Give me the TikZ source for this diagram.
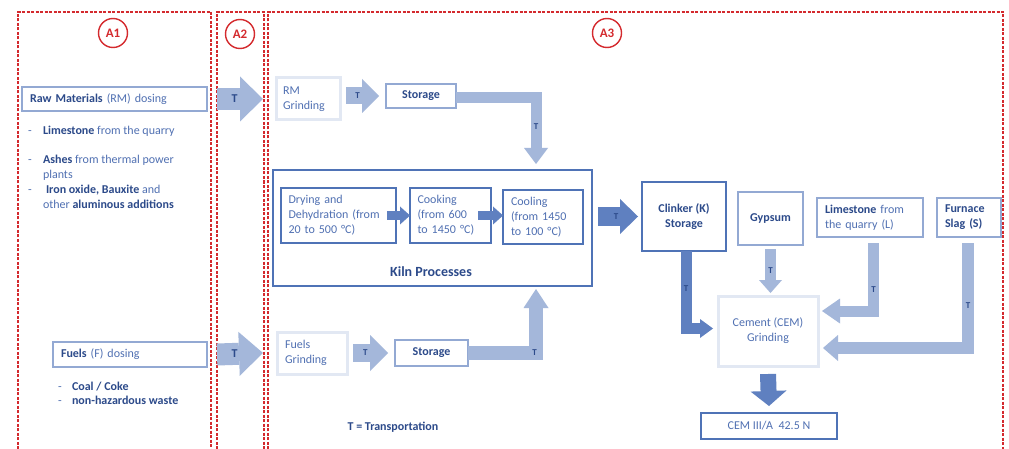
\documentclass[tikz,border=0pt]{standalone}
\usepackage{fontspec}
\setmainfont{Carlito}
\usetikzlibrary{arrows.meta}
\definecolor{redA}{HTML}{D42A2E}
\definecolor{txtd}{HTML}{2C4A8A}
\definecolor{txtl}{HTML}{5070B2}
\definecolor{arl}{HTML}{A4B7DA}
\definecolor{ard}{HTML}{5F80C0}
\definecolor{bmed}{HTML}{4F73B6}
\definecolor{blt}{HTML}{93A9D3}
\definecolor{bfaint}{HTML}{E2E8F3}
\begin{document}
\begin{tikzpicture}[x=1pt,y=-1pt,
  every node/.style={font=\fontsize{12}{15}\selectfont, text=txtl, inner sep=0pt, outer sep=0pt},
  redline/.style={draw=redA, line width=1.3pt, dash pattern=on 3pt off 1.5pt},
  zone/.style={circle, draw=redA, line width=1.4pt, minimum size=29pt, text=redA, font=\bfseries\fontsize{13}{13}\selectfont},
  medbox/.style={rectangle, draw=bmed, line width=1.8pt},
  litebox/.style={rectangle, draw=blt, line width=2pt},
  faintbox/.style={rectangle, draw=bfaint, line width=3pt},
  sz/.style 2 args={minimum width=#1, minimum height=#2},
  lt/.style={align=left, text width=#1},
  bd/.style={font=\bfseries\fontsize{12}{15}\selectfont, text=txtd},
  tbig/.style={font=\bfseries\fontsize{12}{12}\selectfont, text=txtd},
  tsm/.style={font=\bfseries\fontsize{9}{9}\selectfont, text=txtd},
  fat/.style n args={4}{draw=#1, line width=#2, line join=miter,
     -{Triangle[length=#3, width=#4, line width=0pt]}},
]
\useasboundingbox (0,0) rectangle (1009,449);
\fill[white] (0,0) rectangle (1009,449);

% zones
\draw[redline] (18,449) -- (18,12) -- (211,12) -- (211,449);
\draw[redline] (217,449) -- (217,12) -- (264,12) -- (264,449);
\draw[redline] (268,449) -- (268,12) -- (1003,12) -- (1003,449);
\node[zone] (a1) at (113,33) {A1};
\node[zone] (a2) at (240,34) {A2};
\node[zone] (a3) at (607,33) {A3};

% A1 column
\node[litebox, sz={185pt}{24pt}, lt=169pt] (rmdose) at (114.5,99)
  {{\bfseries\color{txtd}Raw Materials} (RM) dosing};
\node[anchor=base west] (d1) at (28,135) {-};
\node[anchor=base west] (l1) at (43,135) {{\bfseries\color{txtd}Limestone} from the quarry};
\node[anchor=base west] (d2) at (28,164) {-};
\node[anchor=base west] (l2) at (43,164) {{\bfseries\color{txtd}Ashes} from thermal power};
\node[anchor=base west] (l2b) at (43,179) {plants};
\node[anchor=base west] (d3) at (28,194) {-};
\node[anchor=base west] (l3) at (46,194) {{\bfseries\color{txtd}Iron oxide, Bauxite} and};
\node[anchor=base west] (l3b) at (43,209) {other {\bfseries\color{txtd}aluminous additions}};

\node[litebox, sz={154pt}{25pt}, lt=138pt] (fdose) at (130,354.5)
  {{\bfseries\color{txtd}Fuels} (F) dosing};
\node[anchor=base west] (d4) at (58,390) {-};
\node[anchor=base west, bd] (f1) at (72,390) {Coal / Coke};
\node[anchor=base west] (d5) at (58,404) {-};
\node[anchor=base west, bd] (f2) at (72,404) {non-hazardous waste};

% A3 column
\node[faintbox, sz={64pt}{42pt}, lt=50pt] (rmgrind) at (308,99) {RM\\Grinding};
\node[litebox, sz={70pt}{24pt}, bd] (stor1) at (421,96) {Storage};
\node[medbox, sz={319pt}{116pt}] (kiln) at (432.5,228) {};
\node[medbox, sz={115pt}{55pt}, lt=100pt] (dry) at (338.5,215.5)
  {Drying and\\Dehydration (from\\20 to 500 °C)};
\node[medbox, sz={81pt}{55pt}, lt=66pt] (cook) at (450.5,215.5)
  {Cooking\\(from 600\\to 1450 °C)};
\node[medbox, sz={80pt}{54pt}, lt=64pt] (cool) at (543,217)
  {Cooling\\(from 1450\\to 100 °C)};
\node[bd, font=\bfseries\fontsize{14}{14}\selectfont] (kilnlab) at (431,272) {Kiln Processes};
\node[faintbox, sz={70pt}{42pt}, lt=54pt] (fgrind) at (312,353) {Fuels\\Grinding};
\node[litebox, sz={73pt}{26pt}, bd] (stor2) at (431.5,353) {Storage};
\node[bd] (legend) at (393,427) {T = Transportation};

\node[medbox, sz={84pt}{69pt}, bd, align=center] (clinker) at (684,216.5) {Clinker (K)\\Storage};
\node[litebox, sz={65pt}{53pt}, bd] (gypsum) at (770.5,218.5) {Gypsum};
\node[litebox, sz={106pt}{39pt}, lt=90pt] (lime) at (870,217.5)
  {{\bfseries\color{txtd}Limestone} from\\the quarry (L)};
\node[litebox, sz={64pt}{39pt}, lt=48pt, bd] (slag) at (969,217.5) {Furnace\\Slag (S)};
\node[faintbox, sz={100pt}{70pt}, align=center] (cement) at (768,331) {Cement (CEM)\\Grinding};
\node[medbox, sz={136pt}{26pt}] (cem) at (769,426) {CEM III/A\ \ 42.5 N};

% arrows
\draw[fat={arl}{22pt}{23pt}{45pt}] ([xshift=10pt]rmdose.east) -- node[pos=0.38,tbig]{T} ([xshift=-13pt]rmgrind.west);
\draw[fat={arl}{22pt}{24pt}{44pt}] ([xshift=10pt]fdose.east) -- node[pos=0.38,tbig]{T} ([xshift=-14pt]fgrind.west);
\draw[fat={arl}{17pt}{17pt}{34pt}] ([xshift=6pt]stor1.west -| rmgrind.east) -- node[pos=0.35,tsm]{T} ([xshift=-7pt]stor1.west);
\draw[fat={arl}{18pt}{18pt}{36pt}] ([xshift=6pt]fgrind.east) -- node[pos=0.35,tsm]{T} ([xshift=-7pt]stor2.west);
\draw[fat={arl}{11pt}{16pt}{24pt}] ([yshift=-1.5pt]stor1.east) -| node[pos=0.715,tsm]{T} ([xshift=103.5pt,yshift=6pt]kiln.north);
\draw[fat={arl}{14pt}{19pt}{25pt}] (stor2.east) -| node[pos=0.49,tsm]{T} ([xshift=103.5pt,yshift=-3pt]kiln.south);
\draw[fat={ard}{9pt}{10pt}{18pt}] ([xshift=-9pt]dry.east) -- (cook.west);
\draw[fat={ard}{9pt}{10pt}{18pt}] ([xshift=-13pt]cook.east) -- (cool.west |- cook.east);
\draw[fat={ard}{19pt}{18pt}{35pt}] ([xshift=6pt]kiln.east |- clinker.west) -- node[pos=0.45,tsm]{T} ([xshift=-4pt]clinker.west);
\draw[fat={ard}{11pt}{13pt}{19pt}] ([xshift=2pt]clinker.south) |- node[pos=0.245,tsm]{T} ([xshift=-5pt,yshift=2.5pt]cement.west);
\draw[fat={arl}{11pt}{13pt}{23pt}] ([yshift=-4pt]gypsum.south) -- node[pos=0.48,tsm]{T} ([yshift=3pt]gypsum.south |- cement.north);
\draw[fat={arl}{11pt}{18pt}{25pt}] ([xshift=3.5pt,yshift=-6pt]lime.south) |- node[pos=0.345,tsm]{T} ([xshift=4pt,yshift=20pt]cement.east);
\draw[fat={arl}{12pt}{15pt}{26pt}] ([xshift=-1pt,yshift=-6pt]slag.south) |- node[pos=0.3,tsm]{T} ([xshift=5pt,yshift=-17pt]cement.east);
\draw[fat={ard}{16pt}{15pt}{36pt}] ([yshift=-8pt]cement.south) -- ([yshift=7pt]cem.north);
\end{tikzpicture}
\end{document}
